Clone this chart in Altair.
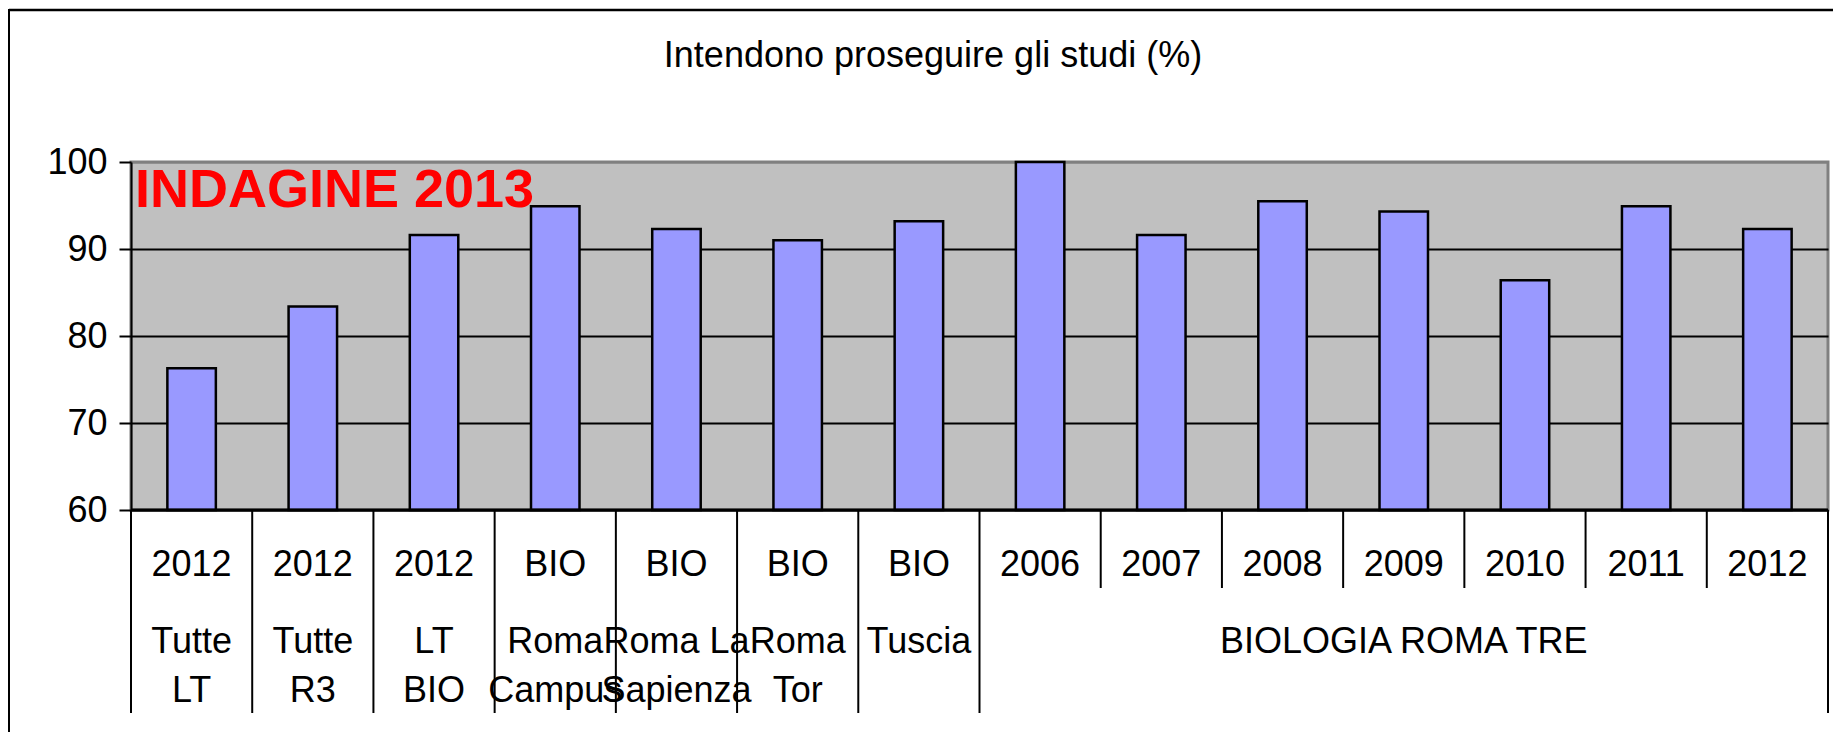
import altair as alt
import pandas as pd

# ---- data ----
level1 = ["2012", "2012", "2012", "BIO", "BIO", "BIO", "BIO",
          "2006", "2007", "2008", "2009", "2010", "2011", "2012"]
level2 = ["Tutte\nLT", "Tutte\nR3", "LT\nBIO", "Roma\nCampus", "Roma La\nSapienza",
          "Roma\nTor", "Tuscia"] + ["BIOLOGIA ROMA TRE"] * 7
values = [76.3, 83.4, 91.6, 94.9, 92.3, 91.0, 93.2,
          100.0, 91.6, 95.5, 94.3, 86.4, 94.9, 92.3]
group_label = "BIOLOGIA ROMA TRE"
title_text = "Intendono proseguire gli studi (%)"
stamp_text = "INDAGINE 2013"
y_ticks = [60, 70, 80, 90, 100]

FONT = "Liberation Sans"
FS = 36
W, H = 1697, 348

keys = [f"{a}|{b}" for a, b in zip(level1, level2)]
df = pd.DataFrame({"key": keys, "l1": level1, "l2": level2, "val": values})
df_single = df[df["l2"] != group_label]
grp_idx = [i for i, g in enumerate(level2) if g == group_label]
mid = grp_idx[len(grp_idx) // 2]
df_group = pd.DataFrame({"key": [keys[mid]], "l2": [group_label]})

# boundaries between category cells (index 0..n)
n = len(keys)
bidx = list(range(n + 1))
deep_b = [i for i in bidx if (i <= grp_idx[0]) or (i == n)]
shallow_b = [i for i in bidx if i not in deep_b]
df_deep = pd.DataFrame({"i": deep_b})
df_shallow = pd.DataFrame({"i": shallow_b})

one = pd.DataFrame({"k": [0]})

xband = alt.X("key:N", sort=keys,
              scale=alt.Scale(domain=keys, paddingInner=0.6, paddingOuter=0.3),
              axis=None)
xlin = alt.X("i:Q", scale=alt.Scale(domain=[0, n], nice=False, zero=False), axis=None)

yaxis = alt.Axis(values=y_ticks, title=None, grid=True,
                 gridColor={"condition": {"test": "datum.value == 100", "value": "#808080"},
                            "value": "black"},
                 gridWidth=2, domainColor="black", domainWidth=2,
                 tickColor="black", tickWidth=2, tickSize=12,
                 labelFont=FONT, labelFontSize=FS, labelColor="black", labelPadding=12)

bars = alt.Chart(df).mark_bar(fill="#9999FF", stroke="black", strokeWidth=2.5).encode(
    x=xband,
    y=alt.Y("val:Q", scale=alt.Scale(domain=[60, 100], nice=False, zero=False), axis=yaxis),
    y2=alt.datum(60),
)

baseline_rule = alt.Chart(one).mark_rule(color="black", strokeWidth=3).encode(
    x=alt.value(0), x2=alt.value(W), y=alt.value(H))

seps_deep = alt.Chart(df_deep).mark_rule(color="black", strokeWidth=2).encode(
    x=xlin, y=alt.value(H), y2=alt.value(551))
seps_shallow = alt.Chart(df_shallow).mark_rule(color="black", strokeWidth=2).encode(
    x=xlin, y=alt.value(H), y2=alt.value(426))

lab1 = alt.Chart(df).mark_text(font=FONT, fontSize=FS, color="black",
                               baseline="alphabetic", align="center").encode(
    x=xband, y=alt.value(414), text="l1:N")

lab2 = alt.Chart(df_single).mark_text(font=FONT, fontSize=FS, color="black",
                                      baseline="alphabetic", align="center",
                                      lineBreak="\n", lineHeight=49).encode(
    x=xband, y=alt.value(491), text="l2:N")

labg = alt.Chart(df_group).mark_text(font=FONT, fontSize=FS, color="black",
                                     baseline="alphabetic", align="center").encode(
    x=xband, y=alt.value(491), text="l2:N")

title = alt.Chart(one).mark_text(font=FONT, fontSize=FS, color="black",
                                 baseline="alphabetic", align="center",
                                 text=title_text).encode(
    x=alt.value(802), y=alt.value(-95))

stamp = alt.Chart(one).mark_text(font=FONT, fontSize=54, fontWeight="bold", color="#FF0000",
                                 baseline="alphabetic", align="left",
                                 text=stamp_text).encode(
    x=alt.value(4), y=alt.value(45))

frame_top = alt.Chart(one).mark_rule(color="black", strokeWidth=2.5).encode(
    x=alt.value(-122), x2=alt.value(W + 6), y=alt.value(-152))
frame_left = alt.Chart(one).mark_rule(color="black", strokeWidth=2).encode(
    x=alt.value(-122), y=alt.value(-153), y2=alt.value(H + 222))

chart = alt.layer(
    bars, baseline_rule, seps_deep, seps_shallow, lab1, lab2, labg, title, stamp,
    frame_top, frame_left
).resolve_scale(x="independent").properties(
    width=W, height=H,
    autosize=alt.AutoSizeParams(type="none"),
    padding={"left": 123, "top": 154, "right": 5, "bottom": 222},
    background="white",
).configure_view(fill="#C0C0C0", stroke="#808080", strokeWidth=3)

chart.save("out.html", embed_options={"renderer": "svg", "actions": False})
